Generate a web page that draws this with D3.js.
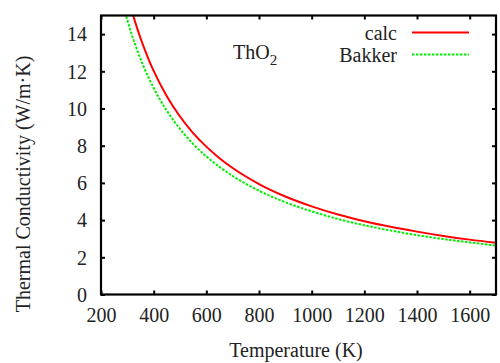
<!DOCTYPE html>
<html>
<head>
<meta charset="utf-8">
<script src="https://cdn.jsdelivr.net/npm/d3@7"></script>
<style>
  html, body { margin: 0; padding: 0; background: #fff; }
  svg { display: block; }
  svg text { font-family: 'Liberation Serif', 'Times New Roman', Times, 'DejaVu Serif', serif !important; fill: #222; }
</style>
</head>
<body>
<svg id="chart" width="500" height="363"></svg>
<script>
// Temperature (K)
const temps = [280, 300, 320, 340, 360, 380, 400, 450, 500, 550, 600, 650, 700, 800, 900, 1000, 1100, 1200, 1300, 1400, 1500, 1600, 1700];
// Thermal conductivity (W/m·K)
const calc   = [17.4, 16.16, 15.11, 14.20, 13.39, 12.67, 12.02, 10.66, 9.57, 8.68, 7.95, 7.33, 6.80, 5.94, 5.27, 4.74, 4.30, 3.94, 3.64, 3.38, 3.15, 2.95, 2.78];
const bakker = [15.79, 14.75, 13.84, 13.03, 12.32, 11.68, 11.10, 9.88, 8.90, 8.09, 7.42, 6.86, 6.37, 5.58, 4.96, 4.47, 4.06, 3.72, 3.44, 3.19, 2.98, 2.80, 2.63];
const xTicks = [200, 400, 600, 800, 1000, 1200, 1400, 1600];
const yTicks = [0, 2, 4, 6, 8, 10, 12, 14];
const seriesNames = ["calc", "Bakker"];

const FONT = "'Liberation Serif', 'Times New Roman', Times, serif";
const svg = d3.select("#chart");
const L = 101, R = 496, T = 15.5, B = 294.5;
const x = d3.scaleLinear().domain([200, 1700]).range([L, R]);
const y = d3.scaleLinear().domain([0, 15]).range([B, T]);

svg.append("defs").append("clipPath").attr("id", "clip")
  .append("rect").attr("x", L).attr("y", T).attr("width", R - L).attr("height", B - T);

const line = d3.line().x(d => x(d[0])).y(d => y(d[1])).curve(d3.curveMonotoneX);

const g = svg.append("g").attr("clip-path", "url(#clip)");
g.append("path").datum(temps.map((t, i) => [t, bakker[i]]))
  .attr("d", line).attr("fill", "none").attr("stroke", "#00ee00")
  .attr("stroke-width", 2).attr("stroke-dasharray", "2.5,1.5");
g.append("path").datum(temps.map((t, i) => [t, calc[i]]))
  .attr("d", line).attr("fill", "none").attr("stroke", "#ff0000")
  .attr("stroke-width", 2);

// Axes with inward ticks on all sides
const tl = 4;
const fmt = d3.format("d");
const axB = svg.append("g").attr("transform", `translate(0,${B})`)
  .call(d3.axisBottom(x).tickValues(xTicks).tickSize(-tl).tickFormat(fmt));
const axT = svg.append("g").attr("transform", `translate(0,${T})`)
  .call(d3.axisTop(x).tickValues(xTicks).tickSize(-tl).tickFormat(""));
const axL = svg.append("g").attr("transform", `translate(${L},0)`)
  .call(d3.axisLeft(y).tickValues(yTicks).tickSize(-tl).tickFormat(fmt));
const axR = svg.append("g").attr("transform", `translate(${R},0)`)
  .call(d3.axisRight(y).tickValues(yTicks).tickSize(-tl).tickFormat(""));
[axB, axT, axL, axR].forEach(a => {
  a.attr("font-family", FONT);
  a.select(".domain").remove();
  a.selectAll(".tick line").attr("stroke", "#000").attr("stroke-width", 2);
  a.selectAll("text").style("font-family", FONT).attr("font-size", 20).attr("fill", "#222");
});
axB.selectAll("text").attr("y", 13).attr("dy", "0.71em");
axL.selectAll("text").attr("x", -14).attr("dy", "0.34em");

svg.append("rect").attr("x", L).attr("y", T).attr("width", R - L).attr("height", B - T)
  .attr("fill", "none").attr("stroke", "#000").attr("stroke-width", 2.2);

// Axis titles
svg.append("text").attr("x", 296).attr("y", 357).attr("text-anchor", "middle")
  .style("font-family", FONT).attr("font-size", 20).text("Temperature (K)");
svg.append("text").attr("transform", "translate(30,184) rotate(-90)").attr("text-anchor", "middle")
  .style("font-family", FONT).attr("font-size", 20).text("Thermal Conductivity (W/m·K)");

// Label
const lab = svg.append("text").attr("x", 233).attr("y", 59).style("font-family", FONT).attr("font-size", 20);
lab.append("tspan").text("ThO");
lab.append("tspan").attr("font-size", 15).attr("dy", 6).text("2");

// Legend
const leg = [
  { name: seriesNames[0], color: "#ff0000", dash: null, y: 32.5 },
  { name: seriesNames[1], color: "#00ee00", dash: "2.5,1.5", y: 54.5 }
];
leg.forEach(d => {
  svg.append("text").attr("x", 397).attr("y", d.y + 7).attr("text-anchor", "end")
    .style("font-family", FONT).attr("font-size", 20).text(d.name);
  svg.append("line").attr("x1", 412).attr("x2", 469).attr("y1", d.y).attr("y2", d.y)
    .attr("stroke", d.color).attr("stroke-width", 2).attr("stroke-dasharray", d.dash);
});
</script>
</body>
</html>
